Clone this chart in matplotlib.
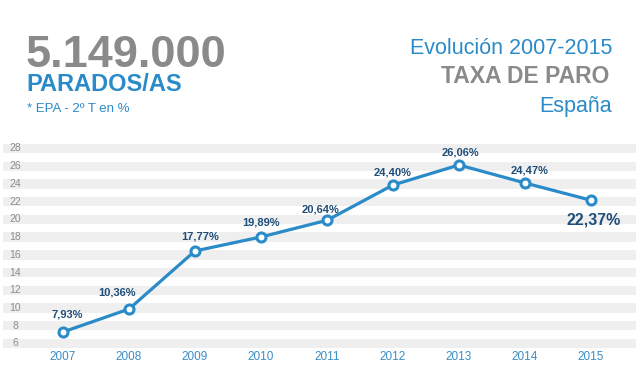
import matplotlib
matplotlib.use('Agg')
import matplotlib.pyplot as plt

plt.rcParams['font.family'] = ['Liberation Sans', 'DejaVu Sans']

# data
years = ['2007', '2008', '2009', '2010', '2011', '2012', '2013', '2014', '2015']
paro = [7.30, 9.89, 16.44, 18.02, 19.90, 23.88, 26.14, 24.11, 22.16]
paro_labels = ['7,93%', '10,36%', '17,77%', '19,89%', '20,64%', '24,40%', '26,06%', '24,47%', '22,37%']
y_ticks = [6, 8, 10, 12, 14, 16, 18, 20, 22, 24, 26, 28]

# label placement (pixels from the point)
label_offsets = [(4, 17), (-12, 17), (5, 14), (0, 14), (-7, 11), (0, 13), (1, 12), (5, 12), (3, -20)]

blue = '#2a8bc8'
dark_blue = '#1f4e79'
gray = '#8a8a8a'

fig = plt.figure(figsize=(6.4, 3.69), dpi=100)
ax = fig.add_axes([0, 0, 1, 1])
ax.set_xlim(-63 / 66.0, (640 - 63) / 66.0)
ax.set_ylim(6 - (369 - 343.5) / 8.864, 6 + 343.5 / 8.864)
ax.axis('off')

# grey stripes behind each tick
for t in y_ticks:
    ax.axhspan(t - 0.53, t + 0.53, xmin=3 / 640, xmax=636 / 640, color='#efefef', lw=0, zorder=0)
    ax.text((15 - 63) / 66.0, t, str(t), ha='center', va='center', fontsize=7.5, color='#8c8c8c')

x = list(range(len(years)))
ax.plot(x, paro, color=blue, lw=2.3, marker='o', ms=6.5, mfc='white', mec=blue, mew=2.2, zorder=3)

for i, yr in enumerate(years):
    ax.text(i, 6 - (357 - 343.5) / 8.864, yr, ha='center', va='center', fontsize=8.5, color='#3a8dc6')

for i, lab in enumerate(paro_labels):
    last = i == len(paro_labels) - 1
    ax.annotate(lab, (i, paro[i]), xytext=label_offsets[i], textcoords='offset pixels',
                ha='center', va='center', fontweight='bold', color=dark_blue,
                fontsize=11.5 if last else 8, zorder=4)

# header texts
def fy(py):
    return 1 - py / 369.0

fig.text(26 / 640, fy(66.7), '5.149.000', fontsize=32.5, fontweight='bold', color=gray, va='baseline')
fig.text(26 / 640, fy(91), 'PARADOS/AS', fontsize=17, fontweight='bold', color=blue, va='baseline')
fig.text(27 / 640, fy(111.7), '* EPA - 2º T en %', fontsize=9.5, color=blue, va='baseline')

fig.text(612 / 640, fy(54), 'Evolución 2007-2015', fontsize=15.5, color=blue, ha='right', va='baseline')
fig.text(609 / 640, fy(83.3), 'TAXA DE PARO', fontsize=16.5, fontweight='bold', color=gray, ha='right', va='baseline')
fig.text(612 / 640, fy(111.7), 'España', fontsize=15.5, color=blue, ha='right', va='baseline')

fig.savefig('out.png', dpi=100, facecolor='white')
